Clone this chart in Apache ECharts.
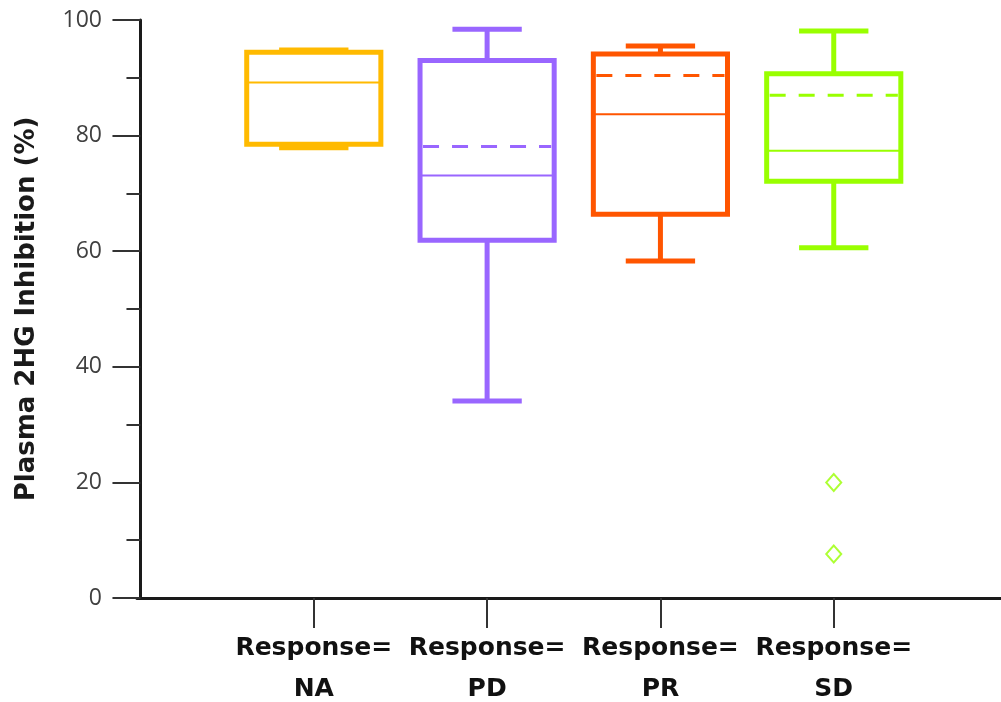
<!DOCTYPE html>
<html>
<head>
<meta charset="utf-8">
<script src="https://cdn.jsdelivr.net/npm/echarts@6/dist/echarts.min.js"></script>
<style>
html,body{margin:0;padding:0;background:#fff;}
#chart{width:1001px;height:702px;}
</style>
</head>
<body>
<div id="chart"></div>
<script>
var categories = ['NA', 'PD', 'PR', 'SD'];
var whiskerLow = [77.9, 34.1, 58.3, 60.6];
var q1 = [78.5, 61.9, 66.4, 72.1];
var median = [89.2, 73.1, 83.7, 77.4];
var q3 = [94.4, 93.0, 94.1, 90.7];
var whiskerHigh = [94.8, 98.4, 95.5, 98.1];
var mean = [null, 78.1, 90.4, 87.0];
var colors = ['#FFBA00', '#9966FF', '#FF5500', '#99FF00'];
var outlierCategory = [3, 3];
var outlierValues = [20.0, 7.6];
var yTicks = [0, 20, 40, 60, 80, 100];

var boxData = categories.map(function (c, i) {
  return [i + 1, whiskerLow[i], q1[i], median[i], q3[i], whiskerHigh[i], mean[i] == null ? NaN : mean[i], i];
});
var outlierData = outlierValues.map(function (v, i) { return [outlierCategory[i] + 1, v]; });

var chart = echarts.init(document.getElementById('chart'));

function renderBox(params, api) {
  var x = api.value(0);
  var idx = api.value(7);
  var col = colors[idx];
  var half = api.size([0.387, 0])[0];
  var capHalf = api.size([0.2, 0])[0];
  var pLow = api.coord([x, api.value(1)]);
  var pQ1 = api.coord([x, api.value(2)]);
  var pMed = api.coord([x, api.value(3)]);
  var pQ3 = api.coord([x, api.value(4)]);
  var pHigh = api.coord([x, api.value(5)]);
  var cx = pQ1[0];
  var children = [];
  children.push({type: 'line', shape: {x1: cx, y1: pQ3[1], x2: cx, y2: pHigh[1]}, style: {stroke: col, lineWidth: 5}});
  children.push({type: 'line', shape: {x1: cx, y1: pQ1[1], x2: cx, y2: pLow[1]}, style: {stroke: col, lineWidth: 5}});
  children.push({type: 'line', shape: {x1: cx - capHalf, y1: pHigh[1], x2: cx + capHalf, y2: pHigh[1]}, style: {stroke: col, lineWidth: 5}});
  children.push({type: 'line', shape: {x1: cx - capHalf, y1: pLow[1], x2: cx + capHalf, y2: pLow[1]}, style: {stroke: col, lineWidth: 5}});
  children.push({type: 'rect', shape: {x: cx - half, y: pQ3[1], width: 2 * half, height: pQ1[1] - pQ3[1]},
    style: {fill: '#fff', stroke: col, lineWidth: 5, lineJoin: 'miter'}});
  children.push({type: 'line', shape: {x1: cx - half, y1: pMed[1], x2: cx + half, y2: pMed[1]}, style: {stroke: col, lineWidth: 2}});
  var m = api.value(6);
  if (!isNaN(m)) {
    var pMean = api.coord([x, m]);
    children.push({type: 'line', shape: {x1: cx - half + 3, y1: pMean[1], x2: cx + half - 3, y2: pMean[1]},
      style: {stroke: col, lineWidth: 3, lineDash: [16, 13]}});
  }
  return {type: 'group', children: children};
}

chart.setOption({
  animation: false,
  backgroundColor: '#fff',
  grid: {left: 137, right: 0, top: 20, bottom: 104, containLabel: false, outerBoundsMode: 'none'},
  xAxis: {
    type: 'value',
    min: -0.02,
    max: 4.965,
    splitLine: {show: false},
    axisLine: {show: true, lineStyle: {color: '#1a1a1a', width: 3}},
    axisTick: {show: true, customValues: [1, 2, 3, 4], inside: false, length: 30, lineStyle: {color: '#333', width: 2}},
    axisLabel: {
      show: true,
      customValues: [1, 2, 3, 4],
      margin: 30,
      formatter: function (v) { return 'Response=\n' + categories[Math.round(v) - 1]; },
      fontFamily: 'DejaVu Sans',
      fontWeight: 'bold',
      fontSize: 25,
      lineHeight: 41,
      color: '#111'
    }
  },
  yAxis: {
    type: 'value',
    min: 0,
    max: 100,
    interval: 20,
    name: 'Plasma 2HG Inhibition (%)',
    nameLocation: 'middle',
    nameGap: 97,
    nameRotate: 90,
    nameTextStyle: {fontFamily: 'DejaVu Sans', fontWeight: 'bold', fontSize: 26, color: '#1a1a1a'},
    splitLine: {show: false},
    axisLine: {show: true, lineStyle: {color: '#1a1a1a', width: 3}},
    axisTick: {show: true, length: 28, lineStyle: {color: '#333', width: 2}},
    minorTick: {show: true, splitNumber: 2, length: 14, lineStyle: {color: '#333', width: 2}},
    axisLabel: {
      margin: 35,
      fontFamily: 'Open Sans',
      fontSize: 23,
      color: '#404040',
      formatter: function (v) { return yTicks.indexOf(v) >= 0 ? String(v) : ''; }
    }
  },
  series: [
    {
      type: 'custom',
      renderItem: renderBox,
      data: boxData,
      encode: {x: 0, y: [1, 2, 3, 4, 5]},
      clip: false,
      z: 3
    },
    {
      type: 'scatter',
      data: outlierData,
      symbol: 'diamond',
      symbolSize: [15, 17],
      itemStyle: {color: '#fff', borderColor: '#99FF00', borderWidth: 2},
      z: 4
    }
  ]
});
</script>
</body>
</html>
